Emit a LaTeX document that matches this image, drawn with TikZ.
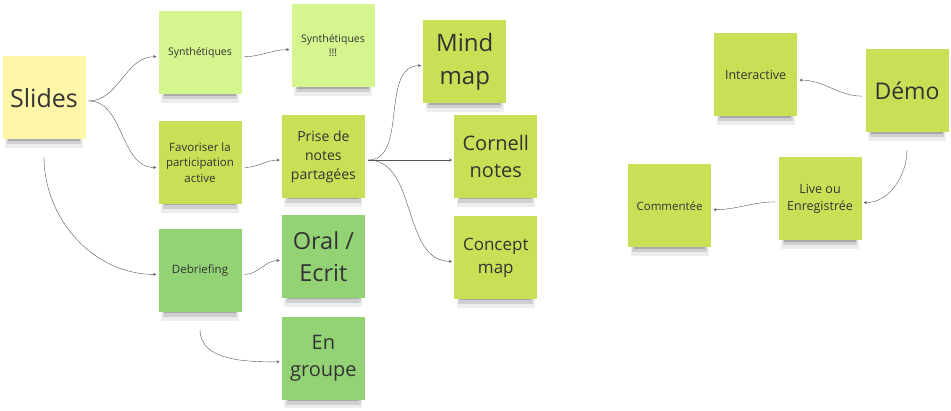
\documentclass[tikz,border=0pt]{standalone}
\usepackage{fontspec}
\setmainfont{Open Sans}
\usetikzlibrary{shapes, arrows, positioning, calc, shadows}

\definecolor{noteyellow}{HTML}{FFF6A8}
\definecolor{notelight}{HTML}{D5F58F}
\definecolor{noteolive}{HTML}{C9DF56}
\definecolor{notegreen}{HTML}{93D275}
\definecolor{notetext}{HTML}{333333}
\definecolor{linkgray}{HTML}{555555}

\begin{document}
\begin{tikzpicture}[x=1pt, y=-1pt,
    % Sticky note styles: square, flat colour, soft shadow underneath.
    note/.style={
      rectangle, minimum width=83pt, minimum height=83pt,
      text centered, align=center, text=notetext, inner sep=1pt,
      general shadow={shadow scale=.94, shadow yshift=-12pt, opacity=.07, fill=black},
      general shadow={shadow scale=.9, shadow yshift=-10pt, opacity=.12, fill=black},
      general shadow={shadow scale=.86, shadow yshift=-8pt, opacity=.18, fill=black}
    },
    slidenote/.style={note, fill=noteyellow},
    lightnote/.style={note, fill=notelight},
    olivenote/.style={note, fill=noteolive},
    greennote/.style={note, fill=notegreen},
    arrow/.style={->, >=stealth, thin, draw=linkgray, shorten <=3pt, shorten >=2pt}
]
\useasboundingbox (0,0) rectangle (951,411);

% Node 1: Slides
\node [slidenote, font=\fontsize{25}{34}\selectfont] (slides) at (44,98) {Slides};

% Node 2: Synthetiques and the branch below it
\node [lightnote, font=\fontsize{10.5}{14}\selectfont] (synth) at (200,53) {Synthétiques};
\node [olivenote, below=26pt of synth, font=\fontsize{11.5}{15.5}\selectfont] (participation) {Favoriser la\\participation\\active};
\node [greennote, below=25pt of participation, font=\fontsize{11.5}{15.5}\selectfont] (debriefing) {Debriefing};

% Node 3: second column
\node [lightnote, font=\fontsize{10.5}{14}\selectfont] (synthBang) at (333,46) {Synthétiques\\!!!};
\node [olivenote, right=40pt of participation, yshift=6pt, font=\fontsize{14}{19}\selectfont] (notes) {Prise de\\notes\\partagées};
\node [greennote, right=40pt of debriefing, yshift=14pt, font=\fontsize{23.5}{32}\selectfont] (oral) {Oral /\\Ecrit};
\node [greennote, below=18pt of oral, font=\fontsize{20}{27}\selectfont] (groupe) {En\\groupe};

% Node 4: note taking methods
\node [olivenote, right=89pt of notes, font=\fontsize{20}{27}\selectfont] (cornell) {Cornell\\notes};
\node [olivenote, above=11pt of cornell, xshift=-31pt, font=\fontsize{24}{33}\selectfont] (mindmap) {Mind\\map};
\node [olivenote, below=18pt of cornell, font=\fontsize{17}{23}\selectfont] (concept) {Concept\\map};

% Node 5: Demo group on the right
\node [olivenote, font=\fontsize{23}{31}\selectfont] (demo) at (907,91) {Démo};
\node [olivenote, left=68pt of demo, yshift=16pt, font=\fontsize{12.5}{17}\selectfont] (interactive) {Interactive};
\node [olivenote, font=\fontsize{12.5}{17}\selectfont] (live) at (820,199) {Live ou\\Enregistrée};
\node [olivenote, left=67pt of live, yshift=-7pt, font=\fontsize{11.5}{15.5}\selectfont] (commentee) {Commentée};

% Draw arrows connecting the nodes
\draw [arrow] (slides.-4) to[out=0, in=180] (synth.185);
\draw [arrow] (slides.-4) to[out=0, in=180] (participation.187);
\draw [arrow] ([yshift=-14pt]slides.south) to[out=-90, in=180] (debriefing.185);
\draw [arrow] (synth.-5) to[out=0, in=180] (synthBang.185);
\draw [arrow] (participation.-7) to[out=0, in=180] (notes.185);
\draw [arrow] (notes.-5) to[out=0, in=180] (mindmap.185);
\draw [arrow] (notes.-5) -- (cornell.185);
\draw [arrow] (notes.-5) to[out=0, in=180] (concept.185);
\draw [arrow] (debriefing.-5) to[out=0, in=180] (oral.185);
\draw [arrow] ([yshift=-14pt]debriefing.south) to[out=-90, in=180] (groupe.185);
\draw [arrow] (demo.187) to[out=180, in=0] (interactive.-7);
\draw [arrow] ([yshift=-14pt]demo.south) to[out=-90, in=0] (live.-5);
\draw [arrow] (live.184) to[out=180, in=0] (commentee.-5);

\end{tikzpicture}
\end{document}
